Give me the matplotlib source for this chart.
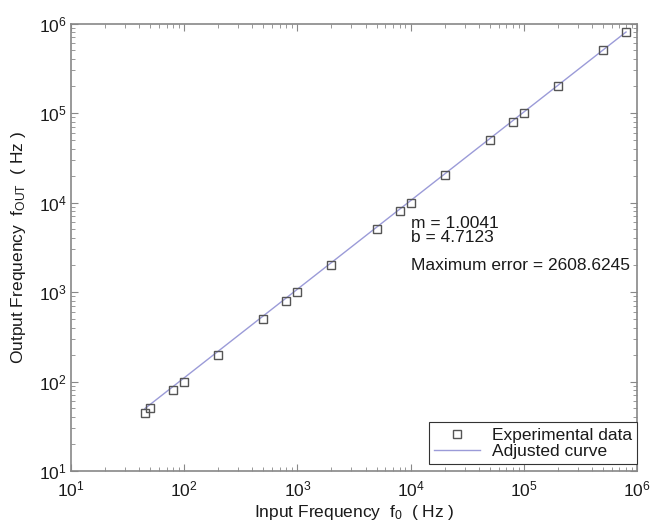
import matplotlib
matplotlib.use("Agg")
import matplotlib.pyplot as plt
import numpy as np

plt.rcParams['font.family'] = ['Liberation Sans', 'DejaVu Sans']
plt.rcParams['mathtext.fontset'] = 'custom'
plt.rcParams['mathtext.rm'] = 'Liberation Sans'
plt.rcParams['mathtext.it'] = 'Liberation Sans'

f_in = [45, 50, 80, 100, 200, 500, 800, 1000, 2000, 5000, 8000, 10000,
        20000, 50000, 80000, 100000, 200000, 500000, 800000]
f_out = [44, 50, 80, 100, 200, 500, 800, 1000, 2000, 5000, 8000, 10000,
         20500, 50000, 80000, 100000, 200000, 505000, 800000]
m = 1.0041
b = 4.7123
fit_x = [45, 800000]
fit_y = [m * v + b for v in fit_x]

FS = 12.5
TXT = '#1a1a1a'

fig = plt.figure(figsize=(6.54, 5.29), dpi=100)
ax = fig.add_axes([71/654, 58/529, 566/654, 447.5/529])
ax.plot(fit_x, fit_y, color='#9b9bd8', lw=1.0, label='Adjusted curve', zorder=2)
ax.plot(f_in, f_out, ls='none', marker='s', ms=6, mfc='none', mec='#555555', mew=1.0,
        label='Experimental data', zorder=3)
ax.set_xscale('log')
ax.set_yscale('log')
ax.set_xlim(10, 1e6)
ax.set_ylim(10, 1e6)
ax.set_xticks([1e1, 1e2, 1e3, 1e4, 1e5, 1e6])
ax.set_yticks([1e1, 1e2, 1e3, 1e4, 1e5, 1e6])
for s in ax.spines.values():
    s.set_color('#888888')
    s.set_linewidth(1.2)
ax.tick_params(which='both', direction='in', top=True, right=True, colors='#888888',
               labelcolor=TXT, labelsize=FS)
ax.tick_params(which='major', length=5)
ax.tick_params(which='minor', length=3)
ax.tick_params(axis='x', which='major', pad=6)
ax.tick_params(axis='y', which='major', pad=3)
ax.set_xlabel('Input Frequency  f$_0$  ( Hz )', fontsize=FS, color=TXT, labelpad=3)
ax.set_ylabel('Output Frequency  f$_{OUT}$  ( Hz )', fontsize=FS, color=TXT, labelpad=8)

ax.text(0.601, 0.554, 'm = 1.0041', transform=ax.transAxes, fontsize=FS, color=TXT, va='center')
ax.text(0.601, 0.521, 'b = 4.7123', transform=ax.transAxes, fontsize=FS, color=TXT, va='center')
ax.text(0.601, 0.460, 'Maximum error = 2608.6245', transform=ax.transAxes, fontsize=FS, color=TXT, va='center')

h, l = ax.get_legend_handles_labels()
leg = ax.legend([h[1], h[0]], [l[1], l[0]], loc='lower right', fontsize=FS, fancybox=False,
                edgecolor='#333333', framealpha=1, borderaxespad=0,
                bbox_to_anchor=(1.0, 7/447.5), handlelength=2.6,
                labelspacing=0.05, borderpad=0.3, handletextpad=0.7)
leg.get_frame().set_linewidth(0.8)
for t in leg.get_texts():
    t.set_color(TXT)

fig.savefig('out.png', dpi=100)
